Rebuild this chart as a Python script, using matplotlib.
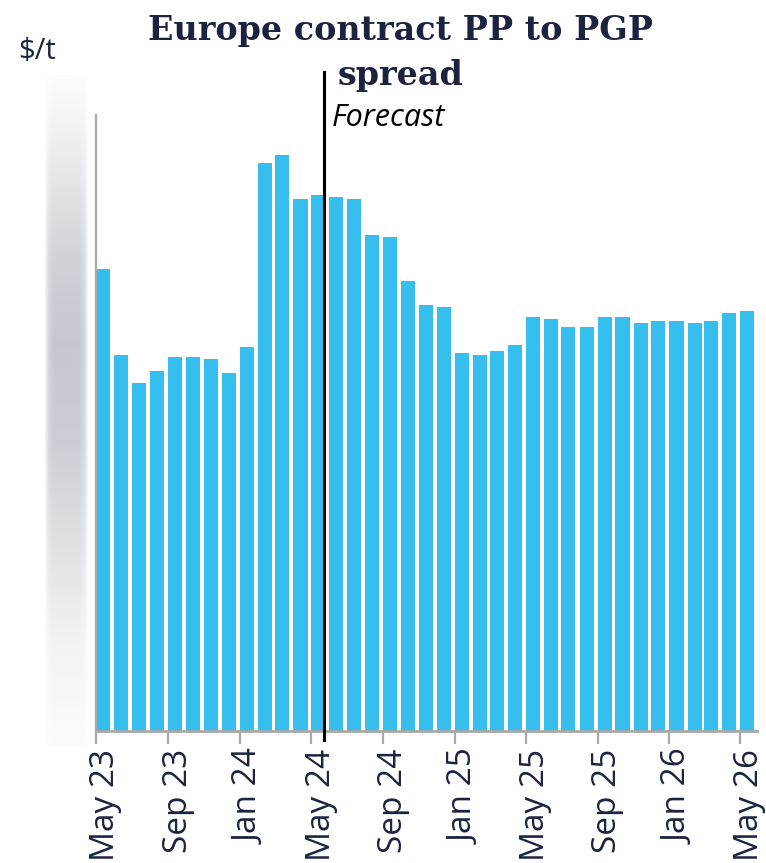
import matplotlib
matplotlib.use('Agg')
import matplotlib.pyplot as plt
import matplotlib.dates as mdates
import matplotlib.transforms as mtransforms
import numpy as np
import pandas as pd

# monthly spread, May 23 .. May 26 (y axis values are hidden in the source)
months = pd.date_range('2023-05-01', '2026-05-01', freq='MS')
spread = [462, 376, 348, 360, 374, 374, 372, 358, 384, 568, 576, 532, 536,
          534, 532, 496, 494, 450, 426, 424, 378, 376, 380, 386, 414, 412,
          404, 404, 414, 414, 408, 410, 410, 408, 410, 418, 420]
tick_months = pd.date_range('2023-05-01', '2026-05-01', freq='4MS')
forecast_start = pd.Timestamp('2024-05-23')

navy = '#1c2340'
bar_blue = '#36bfee'
axis_grey = '#a8a8a8'
sans = ['Open Sans', 'DejaVu Sans']

fig = plt.figure(figsize=(7.66, 8.63), dpi=100)
ax = fig.add_axes([96 / 766, 1 - 731 / 863, 661 / 766, 616 / 863])

ax.bar(months, spread, width=24, align='edge', color=bar_blue, zorder=2)

ax.set_xlim(pd.Timestamp('2023-05-01'), pd.Timestamp('2026-05-30'))
ax.set_ylim(0, 616)

ax.set_xticks(tick_months)
ax.xaxis.set_major_formatter(mdates.DateFormatter('%b %y'))
ax.tick_params(axis='x', length=9, width=1.6, color=axis_grey, pad=4,
               labelsize=24, labelcolor=navy, rotation=90)
shift = mtransforms.ScaledTranslation(10 / 100, 0, fig.dpi_scale_trans)
for lab in ax.get_xticklabels():
    lab.set_fontfamily(sans)
    lab.set_transform(lab.get_transform() + shift)
ax.set_yticks([])

for s in ['top', 'right']:
    ax.spines[s].set_visible(False)
ax.spines['left'].set_color(axis_grey)
ax.spines['left'].set_linewidth(1.6)
ax.spines['bottom'].set_color(axis_grey)
ax.spines['bottom'].set_linewidth(2)

# forecast divider
ax.axvline(forecast_start, ymin=-0.015, ymax=1.07, color='black', lw=2.2,
           clip_on=False, zorder=3)
ax.text(pd.Timestamp('2024-06-06'), (731 - 103) / 616, 'Forecast',
        transform=ax.get_xaxis_transform(), fontsize=22, style='italic',
        family=sans, color='black', ha='left', va='top')

# blurred (redacted) y axis labels
gax = fig.add_axes([45 / 766, 1 - 745 / 863, 42 / 766, 670 / 863])
yy = np.linspace(0, 1, 200)
vert = np.interp(yy, [0, 0.04, 0.15, 0.28, 0.4, 0.55, 0.7, 0.85, 1],
                 [0.04, 0.12, 0.4, 0.75, 0.88, 0.8, 0.5, 0.2, 0.05])
xx = np.linspace(0, 1, 40)
horiz = np.interp(xx, [0, 0.08, 0.2, 0.8, 0.92, 1], [0.25, 0.8, 1, 1, 0.8, 0.25])
img = np.zeros((200, 40, 4))
img[..., 0] = 0.70
img[..., 1] = 0.72
img[..., 2] = 0.75
img[..., 3] = vert[:, None] * horiz[None, :] * 0.85
gax.imshow(img, aspect='auto', interpolation='bilinear')
gax.axis('off')

fig.text(18 / 766, 1 - 59 / 863, '$/t', fontsize=21, color=navy,
         family=sans, ha='left', va='baseline')
fig.text(401 / 766, 1 - 85 / 863, 'Europe contract PP to PGP\nspread',
         fontsize=24, fontweight='bold', color=navy, family='DejaVu Serif',
         ha='center', va='baseline', linespacing=1.48, multialignment='center')

fig.savefig('out.png', dpi=100)
